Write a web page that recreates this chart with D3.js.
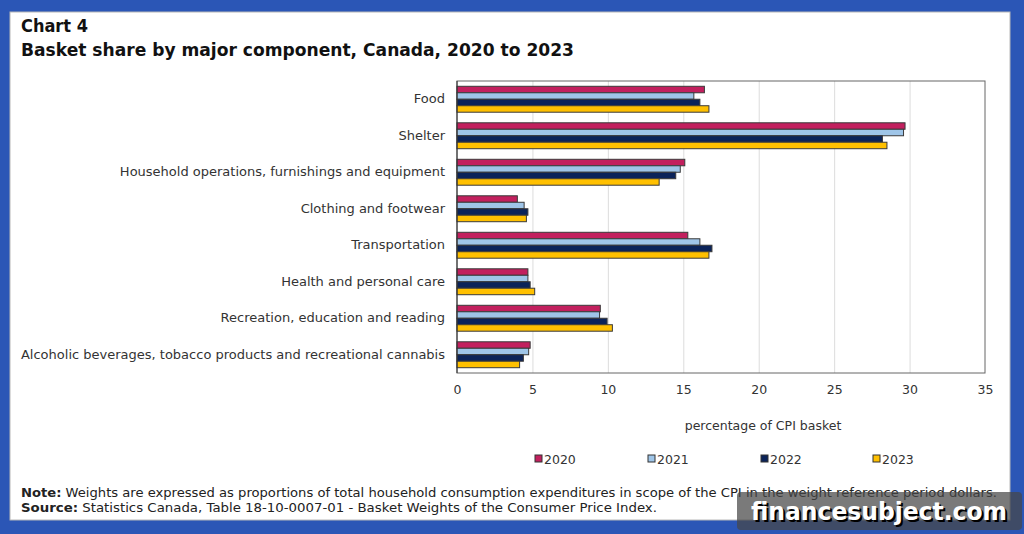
<!DOCTYPE html>
<html>
<head>
<meta charset="utf-8">
<script src="https://cdn.jsdelivr.net/npm/d3@7"></script>
<style>
  html, body { margin: 0; padding: 0; background: #2b56b6; }
  svg { display: block; font-family: "DejaVu Sans", Verdana, sans-serif; }
</style>
</head>
<body>
<svg width="1024" height="534"></svg>
<script>
// categories and series values (percentage of CPI basket)
const categories = [
  "Food",
  "Shelter",
  "Household operations, furnishings and equipment",
  "Clothing and footwear",
  "Transportation",
  "Health and personal care",
  "Recreation, education and reading",
  "Alcoholic beverages, tobacco products and recreational cannabis"
];
const years = ["2020", "2021", "2022", "2023"];
const v2020 = [16.4, 29.7, 15.1, 4.0, 15.3, 4.7, 9.5, 4.85];
const v2021 = [15.7, 29.6, 14.8, 4.45, 16.1, 4.7, 9.45, 4.75];
const v2022 = [16.1, 28.2, 14.5, 4.7, 16.9, 4.85, 9.95, 4.4];
const v2023 = [16.7, 28.5, 13.4, 4.6, 16.7, 5.15, 10.3, 4.15];
const xTicks = [0, 5, 10, 15, 20, 25, 30, 35];
const colors = ["#c2205e", "#9fc5e8", "#0b2359", "#ffc000"];

const series = [v2020, v2021, v2022, v2023];
const rows = [];
categories.forEach((c, i) => {
  years.forEach((y, j) => rows.push({cat: c, year: y, value: series[j][i]}));
});

const svg = d3.select("svg");

// blue frame + white panel
svg.append("rect").attr("width", 1024).attr("height", 534).attr("fill", "#2b56b6");
svg.append("rect")
  .attr("x", 10).attr("y", 12).attr("width", 1000).attr("height", 508)
  .attr("fill", "#fff").attr("stroke", "#b8b8b8");

// titles
svg.append("text").attr("x", 21).attr("y", 32)
  .attr("font-size", "17px").attr("font-weight", "bold").attr("fill", "#111")
  .attr("textLength", 67).attr("lengthAdjust", "spacingAndGlyphs")
  .text("Chart 4");
svg.append("text").attr("x", 21).attr("y", 56)
  .attr("font-size", "17px").attr("font-weight", "bold").attr("fill", "#111")
  .attr("textLength", 553).attr("lengthAdjust", "spacingAndGlyphs")
  .text("Basket share by major component, Canada, 2020 to 2023");

const pLeft = 457, pRight = 985, pTop = 81, pBottom = 373;

const x = d3.scaleLinear().domain([0, 35]).range([pLeft, pRight]);
const y = d3.scaleBand().domain(categories).range([pTop, pBottom])
  .paddingInner(0.29).paddingOuter(0.145);
const ySub = d3.scaleBand().domain(years).range([0, y.bandwidth()]);
const color = d3.scaleOrdinal().domain(years).range(colors);

// gridlines
svg.append("g")
  .attr("transform", "translate(0," + pBottom + ")")
  .call(d3.axisBottom(x).tickValues(xTicks.slice(1, -1)).tickSize(-(pBottom - pTop)).tickFormat(""))
  .call(g => g.select(".domain").remove())
  .call(g => g.selectAll("line").attr("stroke", "#dcdcdc"));

// plot frame
svg.append("rect")
  .attr("x", pLeft).attr("y", pTop).attr("width", pRight - pLeft).attr("height", pBottom - pTop)
  .attr("fill", "none").attr("stroke", "#666");

// bars
svg.append("g").selectAll("rect")
  .data(rows)
  .enter().append("rect")
  .attr("x", x(0))
  .attr("y", d => y(d.cat) + ySub(d.year))
  .attr("width", d => x(d.value) - x(0))
  .attr("height", ySub.bandwidth())
  .attr("fill", d => color(d.year))
  .attr("stroke", "#3a3a3a")
  .attr("stroke-width", 1);

// left axis line
svg.append("line").attr("x1", pLeft).attr("x2", pLeft).attr("y1", pTop).attr("y2", pBottom)
  .attr("stroke", "#333");

// category labels
svg.append("g")
  .attr("transform", "translate(" + (pLeft - 12) + ",0)")
  .call(d3.axisLeft(y).tickSize(0).tickPadding(0))
  .call(g => g.select(".domain").remove())
  .call(g => g.selectAll("text")
    .attr("font-family", "DejaVu Sans, sans-serif")
    .attr("font-size", "13px").attr("fill", "#333"));

// x tick labels
svg.append("g")
  .attr("transform", "translate(0," + (pBottom + 12) + ")")
  .call(d3.axisBottom(x).tickValues(xTicks).tickSize(0).tickPadding(0))
  .call(g => g.select(".domain").remove())
  .call(g => g.selectAll("text")
    .attr("font-family", "DejaVu Sans, sans-serif")
    .attr("font-size", "12.5px").attr("fill", "#333"));

svg.append("text").attr("x", 763).attr("y", 430)
  .attr("text-anchor", "middle").attr("font-size", "12.5px").attr("fill", "#333")
  .text("percentage of CPI basket");

// legend
const legendX = [535, 648, 761, 873];
const lg = svg.append("g").selectAll("g").data(years).enter().append("g")
  .attr("transform", (d, i) => "translate(" + legendX[i] + ",455)");
lg.append("rect").attr("width", 7).attr("height", 7)
  .attr("fill", d => color(d)).attr("stroke", "#333");
lg.append("text").attr("x", 9).attr("y", 9)
  .attr("font-size", "12.5px").attr("fill", "#333").text(d => d);

// note + source
const note = svg.append("text").attr("x", 21).attr("y", 497)
  .attr("font-size", "12px").attr("fill", "#222")
  .attr("textLength", 976).attr("lengthAdjust", "spacingAndGlyphs");
note.append("tspan").attr("font-weight", "bold").text("Note:");
note.append("tspan").text(" Weights are expressed as proportions of total  household consumption expenditures in scope of the CPI in the weight  reference period dollars.");
const src = svg.append("text").attr("x", 21).attr("y", 512)
  .attr("font-size", "12px").attr("fill", "#222")
  .attr("textLength", 636).attr("lengthAdjust", "spacingAndGlyphs");
src.append("tspan").attr("font-weight", "bold").text("Source:");
src.append("tspan").text(" Statistics Canada, Table 18-10-0007-01 - Basket Weights of the Consumer Price Index.");

// watermark
svg.append("rect").attr("x", 737).attr("y", 492).attr("width", 285).attr("height", 38)
  .attr("rx", 4).attr("fill", "rgba(70,70,70,0.72)");
svg.append("text").attr("x", 881).attr("y", 522)
  .attr("text-anchor", "middle").attr("font-size", "24px").attr("font-weight", "bold")
  .attr("fill", "#000").attr("textLength", 256).attr("lengthAdjust", "spacingAndGlyphs")
  .text("financesubject.com");
svg.append("text").attr("x", 879).attr("y", 520)
  .attr("text-anchor", "middle").attr("font-size", "24px").attr("font-weight", "bold")
  .attr("fill", "#fff").attr("textLength", 256).attr("lengthAdjust", "spacingAndGlyphs")
  .text("financesubject.com");
</script>
</body>
</html>
